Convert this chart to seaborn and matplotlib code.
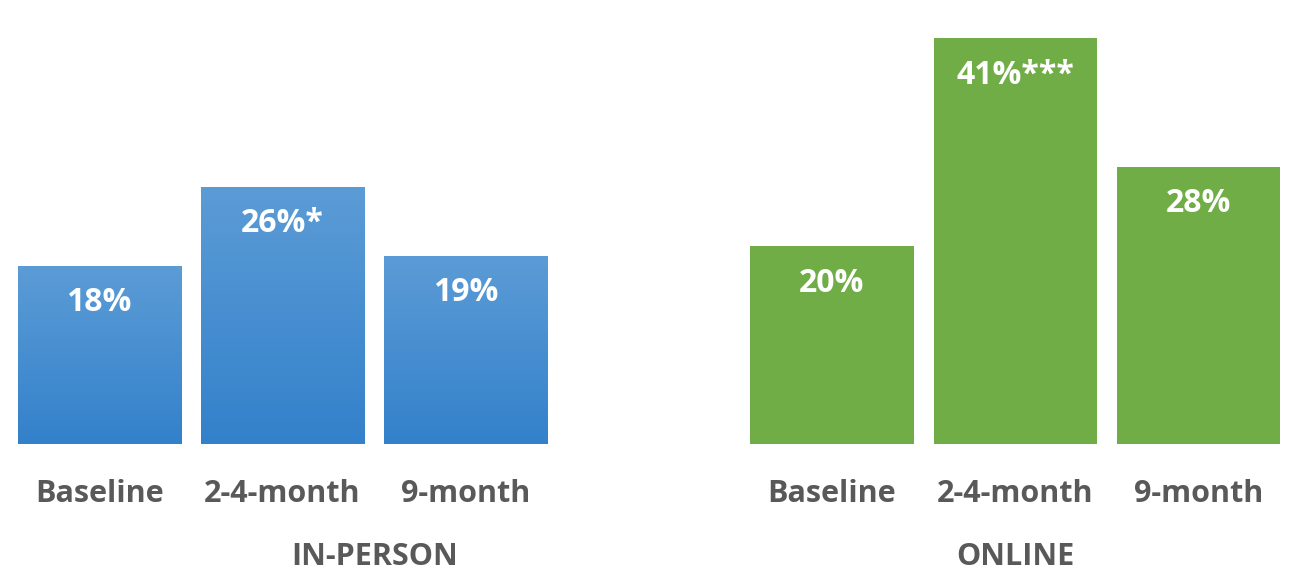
import numpy as np
import pandas as pd
import matplotlib
matplotlib.use("Agg")
import matplotlib.pyplot as plt
import matplotlib.colors as mcolors
import seaborn as sns

# Survey results by delivery mode and follow-up wave
groups = ["IN-PERSON", "ONLINE"]
waves = ["Baseline", "2-4-month", "9-month"]
in_person = [18, 26, 19]
online = [20, 41, 28]
in_person_sig = ["", "*", ""]
online_sig = ["", "***", ""]

rows = []
for g_i, (grp, vals, sigs) in enumerate(zip(groups, [in_person, online], [in_person_sig, online_sig])):
    for w_i, (wave, v, s) in enumerate(zip(waves, vals, sigs)):
        rows.append({"group": grp, "wave": wave, "value": v,
                     "label": f"{v}%{s}", "pos": g_i * 4 + w_i})
df = pd.DataFrame(rows)

sns.set_theme(style="white")
plt.rcParams["font.family"] = ["Open Sans", "DejaVu Sans"]

fig = plt.figure(figsize=(12.99, 5.73), dpi=100)
ax = fig.add_axes([0, 129 / 573, 1, 444 / 573])

blue_top, blue_bottom = "#5C9CD6", "#3381CB"
green = "#70AD47"
text_grey = "#595959"

sns.barplot(data=df, x="pos", y="value", hue="group", native_scale=True,
            palette={"IN-PERSON": blue_bottom, "ONLINE": green},
            width=0.89, dodge=False, legend=False, ax=ax, linewidth=0,
            saturation=1)

ax.set_xlim(-0.541, 6.549)
ax.set_ylim(0, 44.85)

# vertical gradient fill for the in-person bars
grad_cmap = mcolors.LinearSegmentedColormap.from_list("bluegrad", [blue_bottom, blue_top])
grad = np.linspace(0, 1, 256).reshape(-1, 1)
for patch in ax.patches:
    x0, y0 = patch.get_x(), patch.get_y()
    w, h = patch.get_width(), patch.get_height()
    if mcolors.to_hex(patch.get_facecolor()) == blue_bottom.lower():
        im = ax.imshow(grad, cmap=grad_cmap, origin="lower", aspect="auto",
                       extent=(x0, x0 + w, y0, y0 + h), zorder=patch.get_zorder() + 0.1,
                       interpolation="bicubic")
        im.set_clip_path(patch)

# value labels inside the bars
label_offset = 37 / 444 * 44.85
for _, r in df.iterrows():
    ax.text(r["pos"], r["value"] - label_offset, r["label"], ha="center", va="center",
            color="white", fontsize=23, fontweight="bold", zorder=5)

ax.set_xticks(df["pos"].tolist())
ax.set_xticklabels(df["wave"].tolist(), fontsize=22, fontweight="bold", color=text_grey)
ax.tick_params(axis="x", length=0, pad=25)
ax.set_yticks([])
ax.set_xlabel("")
ax.set_ylabel("")
sns.despine(ax=ax, left=True, bottom=True, top=True, right=True)

# group captions along the bottom edge, under each set of bars
for x_pos, grp in [(1.503, groups[0]), (5.0, groups[1])]:
    ax.annotate(grp, xy=(x_pos, 0), xycoords=("data", "figure pixels"),
                xytext=(0, 1), textcoords="offset pixels",
                ha="center", va="bottom", fontsize=22, fontweight="bold",
                color=text_grey, annotation_clip=False)

fig.savefig("out.png", dpi=100)
